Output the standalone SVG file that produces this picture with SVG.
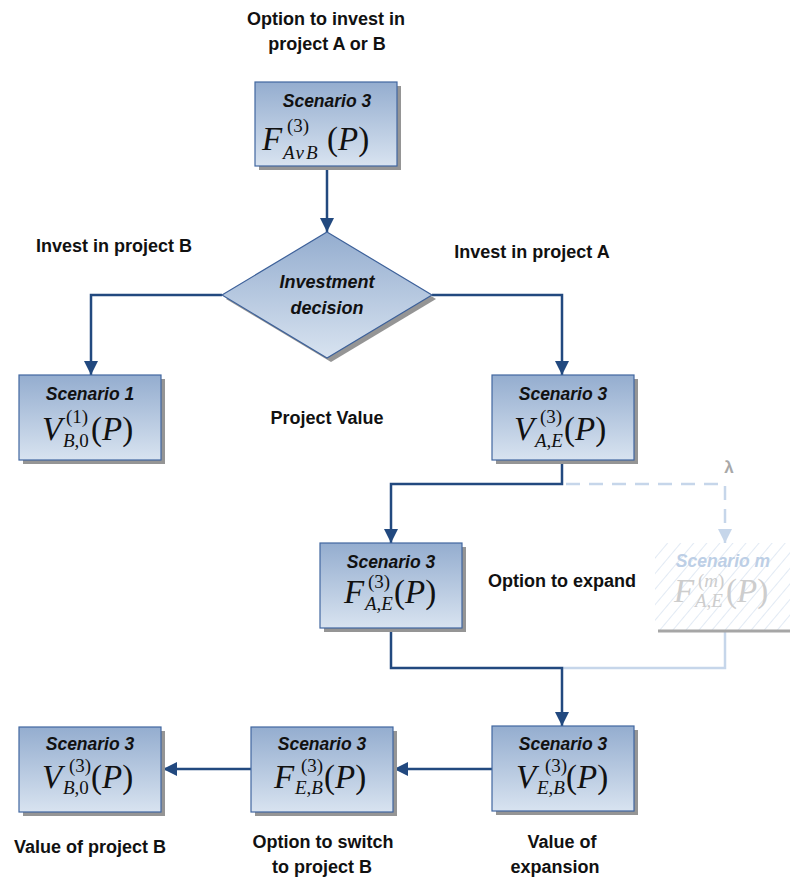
<svg xmlns="http://www.w3.org/2000/svg" width="790" height="879" viewBox="0 0 790 879">
<defs>
<linearGradient id="gb" x1="0" y1="0" x2="0" y2="1">
<stop offset="0" stop-color="#94ADCF"/>
<stop offset="1" stop-color="#D8E3F0"/>
</linearGradient>
<pattern id="hatch" width="10" height="10" patternUnits="userSpaceOnUse" patternTransform="rotate(40)">
<line x1="0" y1="0" x2="0" y2="10" stroke="#D3DFEE" stroke-width="1.3"/>
</pattern>
<marker id="ah" markerUnits="userSpaceOnUse" markerWidth="16" markerHeight="16" refX="14" refY="7" orient="auto">
<path d="M0,0 L14,7 L0,14 Z" fill="#22497F"/>
</marker>
<marker id="ahl" markerUnits="userSpaceOnUse" markerWidth="16" markerHeight="16" refX="14" refY="7" orient="auto">
<path d="M0,0 L14,7 L0,14 Z" fill="#C6D6EA"/>
</marker>
</defs>
<style>
.box{fill:url(#gb);stroke:#4167A0;stroke-width:1.2}
.sh{fill:#959595}
.sc{font-family:"Liberation Sans",Arial,sans-serif;font-weight:bold;font-style:italic;font-size:17.5px;fill:#111;text-anchor:middle}
.m{font-family:"Liberation Serif","Times New Roman",serif;font-size:33px;fill:#111}
.s{font-family:"Liberation Serif","Times New Roman",serif;font-size:19px;fill:#111}
.i{font-style:italic}
.lb{font-family:"Liberation Sans",Arial,sans-serif;font-weight:bold;font-size:18px;fill:#111;text-anchor:middle}
.c{fill:none;stroke:#22497F;stroke-width:2.5}
.cl{fill:none;stroke:#C6D6EA;stroke-width:2.5}
.g{fill:#CDCDCD}
</style>

<g id="connectors">
<path class="cl" d="M566,484 H725 V543" stroke-dasharray="14 9" marker-end="url(#ahl)"/>
<path class="cl" d="M725,632 V668 H563"/>
<path class="c" d="M327,166 V232" marker-end="url(#ah)"/>
<path class="c" d="M222,295 H91 V375" marker-end="url(#ah)"/>
<path class="c" d="M432,295 H562 V375" marker-end="url(#ah)"/>
<path class="c" d="M562,460 V484 H391 V543" marker-end="url(#ah)"/>
<path class="c" d="M391,628 V668 H562 V726" marker-end="url(#ah)"/>
<path class="c" d="M492,769 H394" marker-end="url(#ah)"/>
<path class="c" d="M251,769 H163" marker-end="url(#ah)"/>
</g>

<g id="top">
<rect class="sh" x="259" y="86" width="142" height="84"/>
<rect class="box" x="255" y="82" width="142" height="84"/>
<text class="sc" x="327" y="107">Scenario 3</text>
<text class="m i" x="262" y="150">F</text>
<text class="s" x="287" y="132">(3)</text>
<text class="s i" x="283" y="159" letter-spacing="2">AvB</text>
<text class="m" x="327" y="150">(<tspan class="i">P</tspan>)</text>
</g>

<g id="decision">
<polygon points="331,236 436,299 331,362 226,299" fill="#959595"/>
<polygon points="327,232 432,295 327,358 222,295" fill="url(#gb)" stroke="#3D619A" stroke-width="1.2"/>
<text class="sc" x="327" y="288" style="font-size:18px">Investment</text>
<text class="sc" x="327" y="314" style="font-size:18px">decision</text>
</g>

<g id="s1">
<rect class="sh" x="23" y="379" width="142" height="85"/>
<rect class="box" x="19" y="375" width="142" height="85"/>
<text class="sc" x="90" y="400">Scenario 1</text>
<text class="m i" x="42" y="440">V</text>
<text class="s" x="66" y="423">(1)</text>
<text class="s" x="63" y="447"><tspan class="i">B</tspan>,0</text>
<text class="m" x="91" y="440">(<tspan class="i">P</tspan>)</text>
</g>

<g id="vae">
<rect class="sh" x="496" y="379" width="142" height="85"/>
<rect class="box" x="492" y="375" width="142" height="85"/>
<text class="sc" x="563" y="400">Scenario 3</text>
<text class="m i" x="514" y="440">V</text>
<text class="s" x="540" y="423">(3)</text>
<text class="s" x="535" y="447"><tspan class="i">A</tspan>,<tspan class="i">E</tspan></text>
<text class="m" x="564" y="440">(<tspan class="i">P</tspan>)</text>
</g>

<g id="fae">
<rect class="sh" x="324" y="547" width="142" height="85"/>
<rect class="box" x="320" y="543" width="142" height="85"/>
<text class="sc" x="391" y="568">Scenario 3</text>
<text class="m i" x="344" y="603">F</text>
<text class="s" x="368" y="588">(3)</text>
<text class="s" x="365" y="610"><tspan class="i">A</tspan>,<tspan class="i">E</tspan></text>
<text class="m" x="394" y="603">(<tspan class="i">P</tspan>)</text>
</g>

<g id="ghost">
<rect x="655" y="543" width="135" height="87" fill="url(#hatch)"/>
<line x1="658" y1="631" x2="790" y2="631" stroke="#A6A6A6" stroke-width="3"/>
<text class="sc" x="723" y="567" style="fill:#BDCFE6">Scenario m</text>
<text class="m i g" x="674" y="602">F</text>
<text class="s g" x="698" y="587">(<tspan class="i">m</tspan>)</text>
<text class="s g" x="695" y="607"><tspan class="i">A</tspan>,<tspan class="i">E</tspan></text>
<text class="m g" x="726" y="602">(<tspan class="i">P</tspan>)</text>
<text class="lb" x="729" y="473" style="fill:#A8A8A8;font-size:17px">λ</text>
</g>

<g id="veb">
<rect class="sh" x="496" y="730" width="142" height="85"/>
<rect class="box" x="492" y="726" width="142" height="85"/>
<text class="sc" x="563" y="750">Scenario 3</text>
<text class="m i" x="516" y="788">V</text>
<text class="s" x="545" y="772">(3)</text>
<text class="s" x="537" y="794"><tspan class="i">E</tspan>,<tspan class="i">B</tspan></text>
<text class="m" x="566" y="788">(<tspan class="i">P</tspan>)</text>
</g>

<g id="feb">
<rect class="sh" x="255" y="731" width="142" height="85"/>
<rect class="box" x="251" y="727" width="142" height="85"/>
<text class="sc" x="322" y="750">Scenario 3</text>
<text class="m i" x="274" y="788">F</text>
<text class="s" x="301" y="772">(3)</text>
<text class="s" x="295" y="794"><tspan class="i">E</tspan>,<tspan class="i">B</tspan></text>
<text class="m" x="324" y="788">(<tspan class="i">P</tspan>)</text>
</g>

<g id="vb0">
<rect class="sh" x="23" y="731" width="142" height="85"/>
<rect class="box" x="19" y="727" width="142" height="85"/>
<text class="sc" x="90" y="750">Scenario 3</text>
<text class="m i" x="42" y="788">V</text>
<text class="s" x="69" y="772">(3)</text>
<text class="s" x="63" y="794"><tspan class="i">B</tspan>,0</text>
<text class="m" x="91" y="788">(<tspan class="i">P</tspan>)</text>
</g>

<g id="labels">
<text class="lb" x="326" y="25">Option to invest in</text>
<text class="lb" x="327" y="50">project A or B</text>
<text class="lb" x="114" y="252">Invest in project B</text>
<text class="lb" x="532" y="258">Invest in project A</text>
<text class="lb" x="327" y="424">Project Value</text>
<text class="lb" x="562" y="587">Option to expand</text>
<text class="lb" x="90" y="853">Value of project B</text>
<text class="lb" x="323" y="848">Option to switch</text>
<text class="lb" x="322" y="873">to project B</text>
<text class="lb" x="562" y="848">Value of</text>
<text class="lb" x="555" y="873">expansion</text>
</g>
</svg>
